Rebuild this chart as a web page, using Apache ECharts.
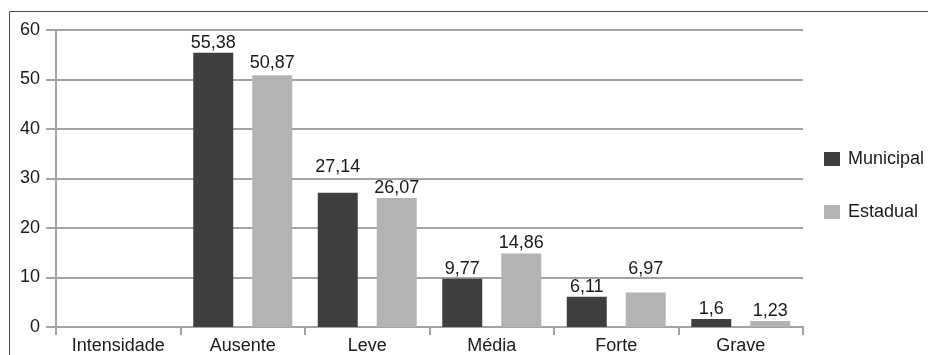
<!DOCTYPE html>
<html>
<head>
<meta charset="utf-8">
<script src="https://cdn.jsdelivr.net/npm/echarts@6/dist/echarts.min.js"></script>
<style>
  html, body { margin: 0; padding: 0; background: #fff; }
  #chart { width: 928px; height: 355px; }
</style>
</head>
<body>
<div id="chart"></div>
<script>
// Intensity categories (the first slot is the axis title column, left empty)
const categories = ['Intensidade', 'Ausente', 'Leve', 'Média', 'Forte', 'Grave'];
const municipal = [null, 55.38, 27.14, 9.77, 6.11, 1.6];
const estadual = [null, 50.87, 26.07, 14.86, 6.97, 1.23];
const yTicks = { min: 0, max: 60, interval: 10 };

// Extra upward nudge (px) for a few value labels that sit higher above their bars
const labelNudge = {
  Municipal: { 2: 16 },
  Estadual: { 1: 2, 4: 13 }
};

const FONT = '"Liberation Sans", Arial, sans-serif';
const FS = 18;
const fmt = v => String(v).replace('.', ',');

const labelStyle = {
  show: true,
  position: 'top',
  distance: 1,
  color: '#1a1a1a',
  fontSize: FS,
  fontFamily: FONT,
  formatter: p => fmt(p.value)
};

function buildData(name, values) {
  const nudge = labelNudge[name] || {};
  return values.map((v, i) => {
    if (v == null) return '-';
    const item = { value: v };
    if (nudge[i]) item.label = { offset: [0, -nudge[i]] };
    return item;
  });
}

const chart = echarts.init(document.getElementById('chart'), null, { renderer: 'canvas' });
chart.setOption({
  animation: false,
  backgroundColor: '#fff',
  textStyle: { fontFamily: FONT },
  graphic: [{
    type: 'rect',
    shape: { x: 9.5, y: 11.5, width: 940, height: 360 },
    style: { fill: 'none', stroke: '#4a4a4a', lineWidth: 1 },
    silent: true
  }],
  grid: { left: 56, right: 125, top: 30, bottom: 28, containLabel: false },
  legend: {
    orient: 'vertical',
    left: 824,
    top: 150,
    padding: 0,
    itemWidth: 16,
    itemHeight: 14,
    itemGap: 35,
    icon: 'rect',
    textStyle: { fontSize: FS, color: '#1a1a1a', fontFamily: FONT, padding: [0, 0, 0, 3] },
    data: ['Municipal', 'Estadual']
  },
  xAxis: {
    type: 'category',
    data: categories,
    axisLine: { lineStyle: { color: '#a3a3a3', width: 2 } },
    axisTick: { show: true, length: 8, lineStyle: { color: '#a3a3a3', width: 2 } },
    axisLabel: { color: '#1a1a1a', fontSize: FS, fontFamily: FONT, margin: 10 },
    splitLine: { show: false }
  },
  yAxis: {
    type: 'value',
    min: yTicks.min,
    max: yTicks.max,
    interval: yTicks.interval,
    axisLine: { show: true, lineStyle: { color: '#a3a3a3', width: 2 } },
    axisTick: { show: true, length: 10, lineStyle: { color: '#a3a3a3', width: 2 } },
    axisLabel: { color: '#1a1a1a', fontSize: FS, fontFamily: FONT, margin: 16 },
    splitLine: { show: true, lineStyle: { color: '#a3a3a3', width: 2 } }
  },
  series: [
    {
      name: 'Municipal',
      type: 'bar',
      data: buildData('Municipal', municipal),
      barWidth: 40,
      barGap: '47.5%',
      itemStyle: { color: '#3f3f41' },
      label: labelStyle
    },
    {
      name: 'Estadual',
      type: 'bar',
      data: buildData('Estadual', estadual),
      barWidth: 40,
      itemStyle: { color: '#b3b3b3' },
      label: labelStyle
    }
  ]
});
</script>
</body>
</html>
